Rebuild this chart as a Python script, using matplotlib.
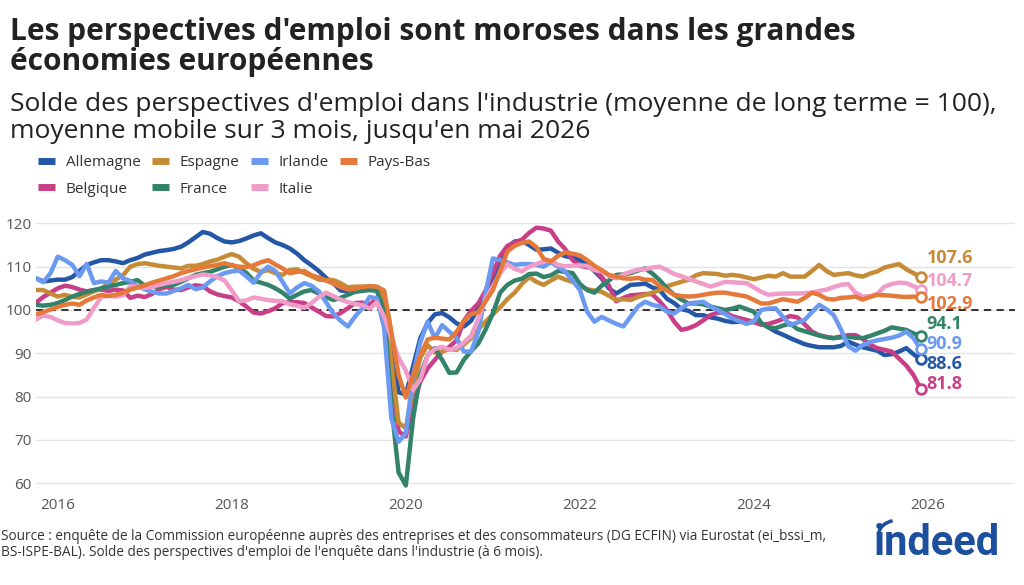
import numpy as np
import pandas as pd
import matplotlib
matplotlib.use("Agg")
import matplotlib.pyplot as plt
from matplotlib.patches import Arc

plt.rcParams['font.family'] = ['Open Sans', 'DejaVu Sans']

# monthly, Oct 2015 -> Dec 2025 (3-month moving average, LT average = 100)
dates = pd.date_range('2015-10-01', periods=123, freq='MS')

allemagne = [
    107.3, 106.6, 106.8, 107.0, 107.0, 107.6, 109.0, 110.4, 111.0, 111.5, 111.5, 111.2,
    110.8, 111.5, 112.0, 112.8, 113.2, 113.6, 113.8, 114.1, 114.6, 115.6, 116.8, 118.0,
    117.6, 116.6, 115.8, 115.6, 115.9, 116.5, 117.2, 117.7, 116.6, 115.6, 115.0, 114.2,
    113.0, 111.5, 110.3, 109.0, 107.4, 106.2, 104.5, 104.3, 104.4, 105.0, 105.4, 104.9,
    104.0, 92.0, 81.0, 80.5, 87.0, 93.5, 97.0, 99.0, 99.3, 98.3, 96.9, 96.2,
    97.5, 100.5, 103.5, 107.5, 111.5, 114.5, 115.8, 116.0, 115.0, 113.9, 114.0, 114.2,
    113.2, 112.4, 112.1, 111.5, 110.5, 109.0, 107.3, 105.0, 103.8, 104.8, 105.8, 105.9,
    106.1, 105.2, 104.6, 102.6, 101.6, 100.2, 99.8, 98.8, 98.8, 98.3, 98.0, 97.5,
    97.2, 97.3, 97.3, 97.2, 96.9, 96.0, 95.0, 94.3, 93.5, 92.8, 92.1, 91.7,
    91.4, 91.4, 91.4, 91.7, 92.7, 92.0, 91.4, 91.0, 90.6, 89.6, 89.8, 90.4,
    91.2, 89.8, 88.6]

espagne = [
    104.6, 104.6, 103.8, 103.1, 103.5, 103.0, 102.9, 103.6, 104.3, 105.0, 106.0, 107.0,
    108.0, 110.0, 110.6, 110.8, 110.5, 110.2, 110.0, 109.8, 109.6, 110.2, 110.2, 110.6,
    111.2, 111.6, 112.3, 112.9, 112.3, 110.8, 109.5, 108.8, 109.2, 108.5, 108.1, 109.2,
    109.4, 108.5, 107.8, 107.0, 106.9, 106.9, 106.2, 105.2, 105.4, 105.4, 105.4, 105.2,
    103.0, 88.0, 74.0, 72.7, 82.0, 89.0, 91.9, 90.2, 90.4, 91.0, 90.8, 92.0,
    93.5, 95.5, 97.3, 99.0, 100.6, 102.5, 104.0, 106.0, 107.6, 106.5, 105.8, 106.8,
    107.7, 107.0, 106.5, 105.5, 104.8, 104.5, 104.2, 103.3, 102.3, 102.5, 102.3, 103.0,
    103.5, 104.0, 104.6, 105.5, 106.0, 106.5, 107.0, 108.0, 108.5, 108.4, 108.3, 107.9,
    108.1, 107.9, 107.5, 107.1, 107.5, 107.9, 107.7, 108.5, 107.7, 107.7, 107.7, 109.0,
    110.4, 109.0, 108.1, 108.3, 108.5, 108.0, 107.7, 108.4, 108.9, 109.8, 110.2, 110.6,
    109.4, 108.5, 107.6]

irlande = [
    107.3, 106.4, 108.5, 112.3, 111.5, 110.4, 107.8, 110.6, 106.2, 106.6, 106.3, 109.0,
    107.3, 106.7, 105.4, 104.8, 104.2, 103.8, 103.8, 104.4, 105.0, 105.8, 104.8, 105.2,
    106.6, 107.8, 108.5, 108.9, 109.1, 107.8, 106.3, 108.6, 110.0, 109.0, 106.5, 103.8,
    105.2, 106.2, 105.6, 104.3, 101.8, 99.2, 97.5, 96.2, 98.5, 100.4, 103.0, 102.7,
    96.0, 75.0, 69.6, 71.5, 85.0, 92.5, 97.3, 93.5, 96.5, 95.0, 93.5, 90.4,
    90.4, 95.0, 104.0, 111.9, 111.5, 111.0, 110.4, 110.6, 110.6, 110.4, 110.0, 111.0,
    110.0, 108.8, 106.8, 104.6, 99.6, 97.3, 98.4, 97.6, 96.8, 96.2, 98.5, 100.8,
    101.9, 101.2, 100.8, 99.6, 99.2, 100.4, 101.5, 101.7, 101.9, 100.8, 100.0, 99.1,
    98.1, 97.4, 96.8, 97.4, 100.0, 100.3, 100.4, 98.4, 96.5, 97.1, 97.7, 99.5,
    101.2, 100.2, 98.8, 95.5, 91.6, 90.6, 91.9, 92.6, 93.0, 93.3, 93.6, 94.1,
    95.0, 93.5, 90.9]

pays_bas = [
    99.0, 99.5, 100.1, 100.7, 101.2, 101.5, 101.2, 102.2, 102.9, 103.5, 103.2, 103.5,
    104.0, 104.7, 105.2, 105.7, 106.3, 106.8, 107.3, 107.8, 108.5, 109.0, 109.4, 109.8,
    110.1, 110.4, 110.8, 110.3, 110.0, 109.9, 110.3, 111.0, 111.5, 110.5, 109.6, 108.5,
    108.8, 109.0, 108.0, 107.5, 106.8, 106.1, 105.3, 104.7, 104.9, 105.3, 105.5, 105.4,
    104.5, 95.0, 85.0, 79.8, 85.0, 89.5, 93.2, 93.6, 93.4, 93.2, 95.0, 97.5,
    99.0, 99.5, 102.0, 104.6, 109.0, 113.5, 114.8, 115.5, 115.8, 114.5, 111.8, 111.2,
    112.5, 113.3, 113.0, 112.6, 111.5, 110.2, 109.2, 108.1, 107.7, 107.3, 107.2, 107.4,
    107.0, 106.9, 105.5, 104.5, 103.5, 103.2, 103.1, 103.2, 103.5, 103.8, 104.0, 104.0,
    103.7, 103.4, 103.1, 102.3, 101.5, 101.5, 102.0, 102.5, 102.2, 101.9, 102.8, 104.0,
    103.5, 102.6, 102.4, 102.8, 102.9, 103.1, 102.4, 103.0, 103.5, 103.4, 103.3, 103.1,
    103.0, 103.1, 102.9]

belgique = [
    101.7, 103.0, 104.0, 105.0, 105.6, 105.3, 104.7, 104.3, 104.6, 104.7, 104.4, 104.7,
    104.5, 102.8, 103.3, 103.0, 103.7, 104.8, 105.3, 104.7, 104.6, 105.2, 105.7, 105.5,
    104.3, 103.6, 103.2, 102.9, 102.0, 100.8, 99.4, 99.2, 99.7, 100.4, 101.6, 101.8,
    101.8, 101.6, 100.6, 99.6, 98.6, 98.5, 99.3, 100.4, 101.6, 101.7, 101.2, 102.7,
    101.5, 86.0, 72.0, 70.8, 78.0, 83.5, 86.5, 88.5, 90.4, 91.5, 93.0, 97.5,
    99.8, 101.5, 104.5, 108.5, 112.5, 114.8, 115.6, 116.2, 117.8, 119.0, 118.8, 118.3,
    115.8, 114.0, 111.5, 110.2, 109.9, 109.6, 107.6, 105.6, 102.0, 102.8, 103.4, 103.5,
    103.7, 103.6, 102.0, 100.0, 97.3, 95.4, 95.8, 96.5, 97.6, 98.8, 99.4, 99.4,
    98.6, 98.1, 97.7, 97.2, 96.6, 96.8, 97.3, 97.9, 98.6, 98.3, 96.7, 95.0,
    94.2, 93.8, 93.5, 93.9, 94.2, 94.2, 93.3, 92.0, 91.2, 90.8, 90.4, 88.8,
    87.2, 85.0, 81.8]

france = [
    101.2, 101.0, 101.2, 101.6, 102.3, 103.1, 103.7, 104.2, 104.6, 105.0, 105.4, 105.8,
    106.2, 106.5, 106.9, 105.6, 105.4, 105.4, 105.6, 105.8, 106.5, 107.3, 108.1, 108.5,
    108.8, 109.4, 110.0, 110.4, 109.6, 108.6, 106.8, 106.3, 105.8, 105.0, 104.0, 102.6,
    103.5, 104.3, 104.6, 103.8, 103.0, 102.3, 102.8, 103.5, 104.2, 104.4, 104.6, 104.4,
    100.0, 78.0, 62.5, 59.5, 75.0, 85.0, 89.5, 91.2, 88.5, 85.5, 85.6, 88.5,
    90.5, 92.3, 95.5, 99.2, 104.0, 105.8, 106.8, 107.2, 108.3, 108.4, 107.6, 108.0,
    109.0, 108.8, 108.5, 106.0, 104.6, 104.0, 105.6, 106.8, 108.1, 108.2, 108.5, 109.1,
    109.6, 108.4, 106.9, 105.0, 103.5, 102.4, 101.5, 101.5, 101.3, 100.8, 100.4, 100.0,
    100.3, 100.8, 100.2, 99.6, 97.0, 96.0, 95.8, 96.4, 96.9, 95.6, 95.1, 94.6,
    94.1, 93.7, 93.5, 93.7, 93.8, 93.6, 93.5, 94.0, 94.6, 95.2, 96.0, 95.7,
    95.4, 94.6, 94.1]

italie = [
    97.8, 98.7, 98.4, 97.6, 97.0, 96.9, 97.0, 97.8, 100.5, 103.0, 103.3, 103.1,
    103.4, 105.5, 105.4, 105.1, 105.3, 105.8, 106.2, 106.5, 106.9, 107.4, 107.8, 108.2,
    108.0, 107.6, 106.8, 104.5, 102.0, 102.2, 102.9, 102.6, 102.3, 102.1, 102.0, 101.3,
    101.0, 100.5, 101.6, 103.0, 104.0, 103.2, 102.4, 101.8, 101.4, 101.1, 100.3, 101.8,
    98.5, 93.5, 89.0, 86.0, 81.5, 84.0, 89.5, 91.0, 91.5, 90.8, 91.2, 92.5,
    94.0, 98.0, 102.5, 105.5, 108.5, 110.6, 109.5, 108.9, 110.0, 110.6, 111.2, 111.4,
    110.4, 110.1, 110.2, 110.3, 110.2, 109.2, 108.9, 107.9, 107.3, 108.2, 108.8, 109.3,
    109.4, 109.8, 110.0, 109.2, 108.3, 107.8, 107.2, 106.6, 106.0, 105.4, 105.9, 106.5,
    106.4, 106.3, 106.2, 105.2, 104.2, 103.5, 103.7, 103.8, 103.8, 103.8, 103.9, 104.0,
    104.4, 104.7, 105.3, 105.8, 106.0, 104.0, 103.1, 103.2, 103.7, 105.4, 106.0, 106.3,
    106.2, 105.5, 104.7]

# legend order gives rows: Allemagne Espagne Irlande Pays-Bas / Belgique France Italie
series = [
    ('Allemagne', allemagne, '#2557a7'),
    ('Belgique', belgique, '#c93f87'),
    ('Espagne', espagne, '#c68b37'),
    ('France', france, '#32836a'),
    ('Irlande', irlande, '#6b9af0'),
    ('Italie', italie, '#f09cc8'),
    ('Pays-Bas', pays_bas, '#e5793a'),
]
# where the end-value labels sit (shifted to avoid overlap)
label_y = {'Espagne': 111.9, 'Italie': 106.6, 'Pays-Bas': 101.4, 'France': 96.8,
           'Irlande': 92.2, 'Allemagne': 87.5, 'Belgique': 82.9}

x = dates.year + (dates.month - 1) / 12.0

fig = plt.figure(figsize=(10.24, 5.85), dpi=100)
ax = fig.add_axes([36 / 1024, 95 / 585, 979 / 1024, 275 / 585])

for name, vals, col in series:
    ax.plot(x, vals, color=col, lw=3.2, label=name, solid_capstyle='round', zorder=3)
for name, vals, col in series:
    ax.plot(x[-1], vals[-1], 'o', ms=7, mfc='white', mec=col, mew=2, zorder=5)
    ax.text(x[-1] + 0.07, label_y[name], '{:.1f}'.format(vals[-1]), color=col,
            fontsize=13, fontweight='bold', va='center', ha='left')

ax.axhline(100, color='#222222', lw=1.3, ls=(0, (4, 3)), zorder=2)

ax.set_xlim(2015.75, 2027.0)
ax.set_ylim(58.46, 121.92)
ax.set_yticks(range(60, 121, 10))
ax.set_xticks(range(2016, 2027, 2))
ax.set_xticklabels([str(y) for y in range(2016, 2027, 2)])
ax.grid(axis='y', color='#e3e3e3', lw=1, zorder=0)
ax.tick_params(length=0, labelsize=11, labelcolor='#555555')
ax.tick_params(axis='y', pad=3)
ax.tick_params(axis='x', pad=6)
for s in ax.spines.values():
    s.set_visible(False)

title = ["Les perspectives d'emploi sont moroses dans les grandes", "économies européennes"]
for k, line in enumerate(title):
    fig.text(10 / 1024, 1 - (40 + 30 * k) / 585, line, fontsize=21.5, fontweight='bold',
             color='#222222', va='baseline', ha='left')
subtitle = ["Solde des perspectives d'emploi dans l'industrie (moyenne de long terme = 100),",
            "moyenne mobile sur 3 mois, jusqu'en mai 2026"]
for k, line in enumerate(subtitle):
    fig.text(10 / 1024, 1 - (111 + 27 * k) / 585, line, fontsize=19,
             color='#222222', va='baseline', ha='left')

h, l = ax.get_legend_handles_labels()
leg = fig.legend(h, l, loc='upper left', bbox_to_anchor=(32 / 1024, 1 - 149 / 585), ncol=4,
                 frameon=False, fontsize=11, handlelength=1.1, handletextpad=0.7,
                 columnspacing=0.75, labelspacing=0.75, borderaxespad=0)
for line in leg.get_lines():
    line.set_linewidth(5)
    line.set_solid_capstyle('butt')
for t in leg.get_texts():
    t.set_color('#333333')

source = ["Source : enquête de la Commission européenne auprès des entreprises et des consommateurs (DG ECFIN) via Eurostat (ei_bssi_m,",
          "BS-ISPE-BAL). Solde des perspectives d'emploi de l'enquête dans l'industrie (à 6 mois)."]
for k, line in enumerate(source):
    fig.text(1 / 1024, 1 - (540 + 16 * k) / 585, line, fontsize=9.8,
             color='#333333', va='baseline', ha='left')

# indeed logo
fig.text(874 / 1024, 1 - 555 / 585, 'indeed', fontsize=30, fontweight='bold',
         color='#1d4f9f', ha='left', va='baseline', family='Roboto')
fig.add_artist(Arc((897 / 1024, 1 - 535 / 585), 0.036, 0.05, theta1=100, theta2=170,
                   transform=fig.transFigure, color='#1d4f9f', lw=2.5))

fig.savefig('out.png', dpi=100)
